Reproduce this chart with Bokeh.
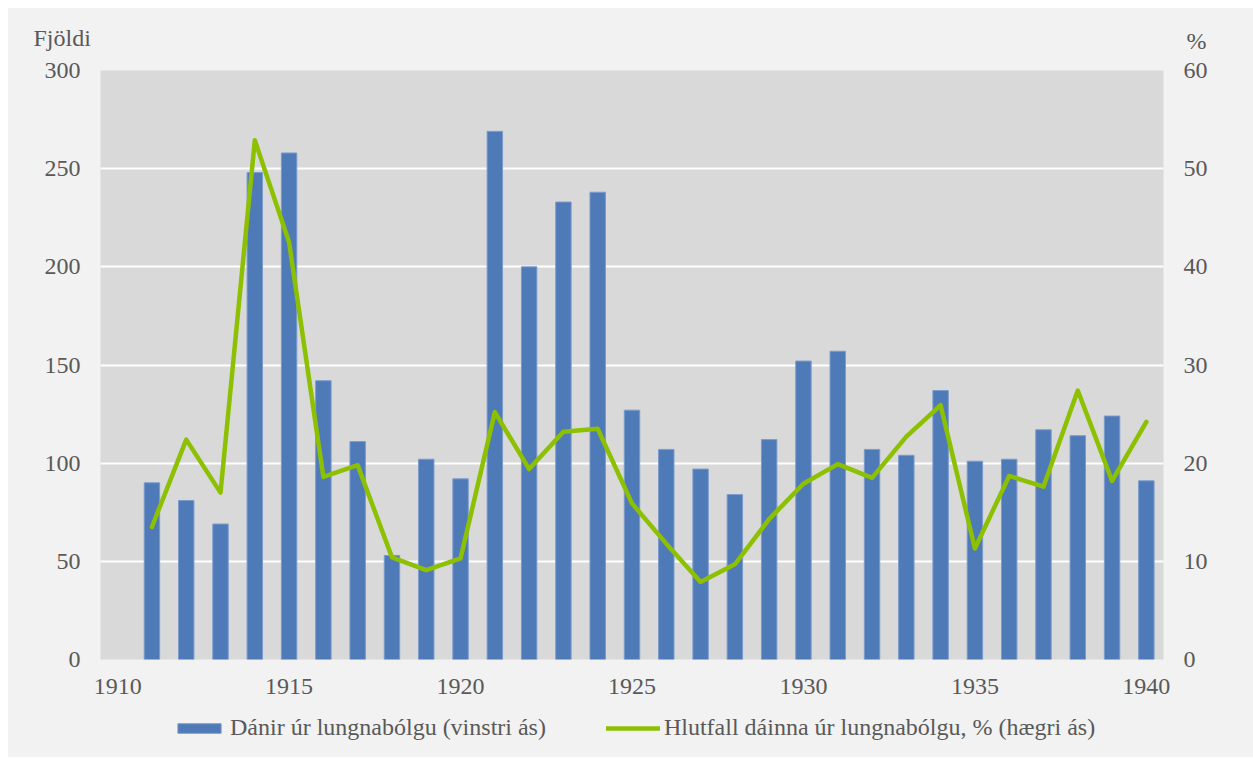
from bokeh.plotting import figure
from bokeh.layouts import column
from bokeh.models import Range1d, LinearAxis, FixedTicker, Label, Legend, LegendItem
from bokeh.embed import file_html
from bokeh.resources import INLINE

years = list(range(1911, 1941))
deaths = [90, 81, 69, 248, 258, 142, 111, 53, 102, 92,
          269, 200, 233, 238, 127, 107, 97, 84, 112, 152,
          157, 107, 104, 137, 101, 102, 117, 114, 124, 91]
pct = [13.5, 22.4, 17.0, 52.9, 42.5, 18.6, 19.8, 10.4, 9.1, 10.3,
       25.2, 19.4, 23.2, 23.5, 15.9, 11.8, 7.9, 9.7, 14.3, 17.9,
       19.9, 18.5, 22.7, 25.9, 11.3, 18.7, 17.6, 27.4, 18.2, 24.2]
x_ticks = [1910, 1915, 1920, 1925, 1930, 1935, 1940]
left_ticks = [0, 50, 100, 150, 200, 250, 300]
right_ticks = [0, 10, 20, 30, 40, 50, 60]
bar_label = "Dánir úr lungnabólgu (vinstri ás)"
line_label = "Hlutfall dáinna úr lungnabólgu, % (hægri ás)"
left_title = "Fjöldi"
right_title = "%"

FONT = "Liberation Serif"
TXT = "#595959"
FS = "24px"
BG = "#f2f2f2"
BAR = "#4f7ab8"
BAR_EDGE = "#7b9bcc"
GREEN = "#8cc000"
W = 1245


def blank(h):
    f = figure(width=W, height=h, output_backend="svg", toolbar_location=None,
               x_axis_location=None, y_axis_location=None,
               x_range=Range1d(0, 1), y_range=Range1d(0, 1),
               min_border=0, min_border_left=0, min_border_right=0,
               min_border_top=0, min_border_bottom=0, frame_align=False,
               background_fill_color=BG, border_fill_color=BG, outline_line_color=None)
    f.grid.visible = False
    return f


# top strip with the axis titles
top = blank(47)
top.add_layout(Label(x=25, y=17.5, x_units="screen", y_units="screen", text=left_title,
                     text_font=FONT, text_font_size=FS, text_color=TXT,
                     text_baseline="alphabetic"))
top.add_layout(Label(x=1178, y=14.5, x_units="screen", y_units="screen", text=right_title,
                     text_font=FONT, text_font_size=FS, text_color=TXT,
                     text_baseline="alphabetic"))

# main chart
p = figure(width=W, height=656, output_backend="svg", toolbar_location=None,
           x_range=Range1d(1909.5, 1940.5), y_range=Range1d(0, 300),
           min_border_left=92, min_border_right=90, min_border_top=15, min_border_bottom=52,
           frame_align=False,
           background_fill_color="#d9d9d9", border_fill_color=BG,
           outline_line_color=None)
p.extra_y_ranges = {"pct": Range1d(0, 60)}

p.vbar(x=years, top=deaths, width=0.45, fill_color=BAR, line_color=BAR_EDGE, line_width=1)
p.line(years, pct, y_range_name="pct", line_color=GREEN, line_width=4.5,
       line_join="round", line_cap="round")

p.xaxis.ticker = FixedTicker(ticks=x_ticks)
p.yaxis.ticker = FixedTicker(ticks=left_ticks)
p.xgrid.visible = False
p.ygrid.ticker = FixedTicker(ticks=left_ticks)
p.ygrid.grid_line_color = "white"
p.ygrid.grid_line_width = 2

ra = LinearAxis(y_range_name="pct", ticker=FixedTicker(ticks=right_ticks))
p.add_layout(ra, "right")

for ax in [p.xaxis[0], p.yaxis[0], ra]:
    ax.axis_line_color = None
    ax.major_tick_line_color = None
    ax.minor_tick_line_color = None
    ax.major_tick_out = 0
    ax.major_tick_in = 0
    ax.major_label_text_font = FONT
    ax.major_label_text_font_size = FS
    ax.major_label_text_color = TXT
p.xaxis.major_label_standoff = 19
p.yaxis[0].major_label_standoff = 20
ra.major_label_standoff = 20

# legend strip (swatch renderers sit outside this strip's visible range)
leg = blank(46)
lb = leg.vbar(x=years, top=deaths, width=0.45, fill_color=BAR, line_color=BAR_EDGE, line_width=1)
ll = leg.line(x=years, y=pct, line_color=GREEN, line_width=4.5, line_cap="round")
legend = Legend(items=[LegendItem(label=bar_label, renderers=[lb]),
                       LegendItem(label=line_label, renderers=[ll])],
                orientation="horizontal", location=(164, 16),
                glyph_width=54, glyph_height=12, label_standoff=4, spacing=60,
                padding=0, margin=0, background_fill_alpha=0, border_line_alpha=0,
                label_text_font=FONT, label_text_font_size=FS, label_text_color=TXT)
leg.add_layout(legend, "center")

layout = column(top, p, leg, spacing=0, margin=(8, 0, 0, 8),
                styles={"background-color": BG})
open("out.html", "w").write(file_html(layout, INLINE))
